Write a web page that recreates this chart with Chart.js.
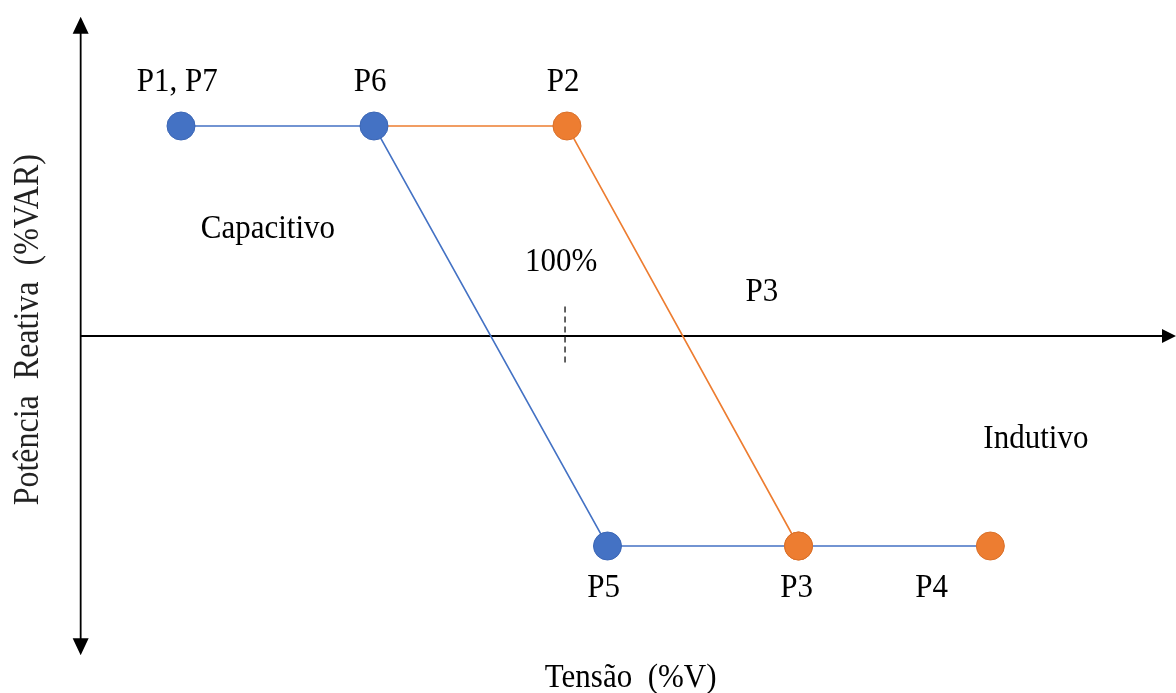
<!DOCTYPE html>
<html lang="pt">
<head>
<meta charset="utf-8">
<title>Curva Volt-VAR</title>
<script src="https://cdn.jsdelivr.net/npm/chart.js@4.4.1/dist/chart.umd.min.js"></script>
<style>
  html, body { margin: 0; padding: 0; background: #fff; }
  #wrap { width: 1176px; height: 693px; }
</style>
</head>
<body>
<div id="wrap"><canvas id="chart" width="1176" height="693"></canvas></div>
<script>
// Tensão (%V) and potência reativa (%VAR) of each curve point
const bluePoints = ['P1, P7', 'P6', 'P5', 'P3', 'P4'];
const blueVoltage = [90.05, 95.05, 101.1, 106.05, 111.02];
const blueReactive = [100, 100, -100, -100, -100];

const orangePoints = ['P6', 'P2', 'P3'];
const orangeVoltage = [95.05, 100.05, 106.05];
const orangeReactive = [100, 100, -100];

const nominalVoltage = 100; // marca de 100%

// text annotations, placed in data units
const notes = [
  { text: 'P1, P7', x: 89.95, y: 121 },
  { text: 'P6', x: 94.95, y: 121 },
  { text: 'P2', x: 99.95, y: 121 },
  { text: 'P5', x: 101, y: -120 },
  { text: 'P3', x: 106, y: -120 },
  { text: 'P4', x: 109.5, y: -120 },
  { text: 'P3', x: 105.1, y: 21 },
  { text: 'Capacitivo', x: 92.3, y: 51 },
  { text: '100%', x: 99.9, y: 35 },
  { text: 'Indutivo', x: 112.2, y: -49 }
];

const BLUE = '#4472C4';
const ORANGE = '#ED7D31';
const FONT = '"Liberation Serif", "Times New Roman", serif';

const axisLeft = 87.45;   // where the vertical axis crosses
const xMin = 85.36, xMax = 115.83;
const yMin = -170, yMax = 160;

// text is a little taller than the plain font in the source picture
function tallText(ctx, text, px, py, stretch) {
  ctx.save();
  ctx.translate(px, py);
  ctx.scale(1, stretch);
  ctx.fillText(text, 0, 0);
  ctx.restore();
}

const decorations = {
  id: 'decorations',
  beforeDatasetsDraw(chart) {
    const { ctx, scales: { x, y } } = chart;
    const ax = x.getPixelForValue(axisLeft);
    const ay = y.getPixelForValue(0);
    const top = y.getPixelForValue(152);
    const bottom = y.getPixelForValue(-152);
    const right = x.getPixelForValue(xMax);

    ctx.save();
    ctx.strokeStyle = '#000';
    ctx.fillStyle = '#000';
    ctx.lineWidth = 1.8;
    ctx.beginPath();
    ctx.moveTo(ax, top + 10);
    ctx.lineTo(ax, bottom - 10);
    ctx.moveTo(ax, ay);
    ctx.lineTo(right - 10, ay);
    ctx.stroke();

    // arrow heads
    ctx.beginPath();
    ctx.moveTo(ax, top);
    ctx.lineTo(ax - 8, top + 17);
    ctx.lineTo(ax + 8, top + 17);
    ctx.closePath();
    ctx.moveTo(ax, bottom);
    ctx.lineTo(ax - 8, bottom - 17);
    ctx.lineTo(ax + 8, bottom - 17);
    ctx.closePath();
    ctx.moveTo(right, ay);
    ctx.lineTo(right - 14, ay - 7);
    ctx.lineTo(right - 14, ay + 7);
    ctx.closePath();
    ctx.fill();

    // dashed 100% marker
    const nx = x.getPixelForValue(nominalVoltage);
    ctx.setLineDash([6, 4]);
    ctx.lineWidth = 1.4;
    ctx.strokeStyle = '#222';
    ctx.beginPath();
    ctx.moveTo(nx, y.getPixelForValue(14));
    ctx.lineTo(nx, y.getPixelForValue(-13));
    ctx.stroke();
    ctx.restore();
  },
  afterDatasetsDraw(chart) {
    const { ctx, scales: { x, y } } = chart;
    ctx.save();
    ctx.fillStyle = '#000';
    ctx.font = '31px ' + FONT;
    ctx.textAlign = 'center';
    ctx.textBaseline = 'middle';
    notes.forEach(n => {
      tallText(ctx, n.text, x.getPixelForValue(n.x), y.getPixelForValue(n.y), 1.1);
    });

    // axis titles
    tallText(ctx, 'Tensão  (%V)', x.getPixelForValue(101.7), y.getPixelForValue(-163), 1.1);
    ctx.translate(x.getPixelForValue(axisLeft) - 52, y.getPixelForValue(3));
    ctx.rotate(-Math.PI / 2);
    ctx.fillStyle = '#222';
    ctx.font = '32px ' + FONT;
    tallText(ctx, 'Potência  Reativa  (%VAR)', 0, 0, 1.1);
    ctx.restore();
  }
};

new Chart(document.getElementById('chart'), {
  type: 'scatter',
  data: {
    datasets: [
      {
        label: 'Curva 1',
        data: blueVoltage.map((v, i) => ({ x: v, y: blueReactive[i], name: bluePoints[i] })),
        showLine: true,
        borderColor: BLUE,
        borderWidth: 1.6,
        pointRadius: 14,
        pointBorderWidth: 1,
        pointBackgroundColor: bluePoints.map(p => (p === 'P3' || p === 'P4') ? ORANGE : BLUE),
        pointBorderColor: bluePoints.map(p => (p === 'P3' || p === 'P4') ? '#d9702a' : '#3b66b5')
      },
      {
        label: 'Curva 2',
        data: orangeVoltage.map((v, i) => ({ x: v, y: orangeReactive[i], name: orangePoints[i] })),
        showLine: true,
        borderColor: ORANGE,
        borderWidth: 1.6,
        pointRadius: orangePoints.map(p => p === 'P6' ? 0 : 14),
        pointBorderWidth: 1,
        pointBackgroundColor: ORANGE,
        pointBorderColor: '#d9702a'
      }
    ]
  },
  options: {
    responsive: false,
    animation: false,
    devicePixelRatio: 1,
    layout: { padding: 0, autoPadding: false },
    plugins: {
      legend: { display: false },
      tooltip: { enabled: false }
    },
    scales: {
      x: { type: 'linear', display: false, min: xMin, max: xMax },
      y: { type: 'linear', display: false, min: yMin, max: yMax }
    }
  },
  plugins: [decorations]
});
</script>
</body>
</html>
